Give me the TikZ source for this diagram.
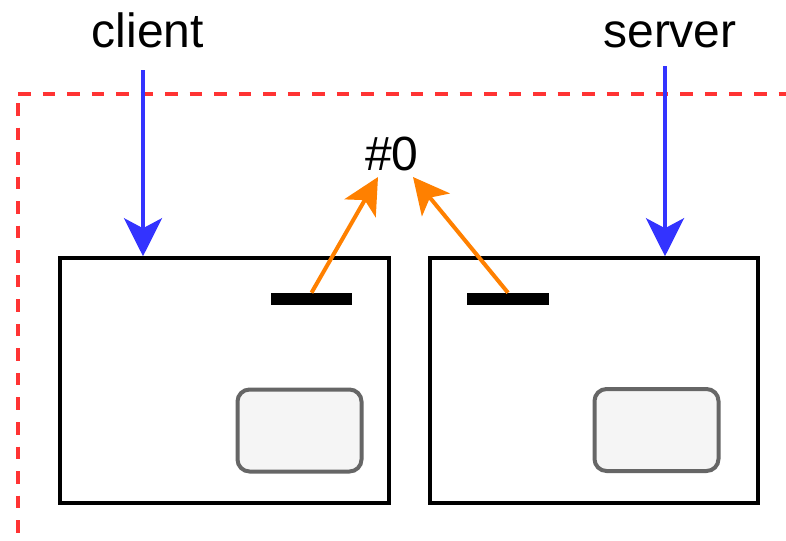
\documentclass[tikz,border=0pt]{standalone}
\usepackage{fontspec}
\setmainfont{Liberation Sans}
\usetikzlibrary{arrows.meta}
\definecolor{frame}{HTML}{FF3333}
\definecolor{blueA}{HTML}{3333FF}
\definecolor{orangeA}{HTML}{FF8000}
\definecolor{grayA}{HTML}{666666}
\definecolor{fillA}{HTML}{F5F5F5}
\tikzset{
  lbl/.style={anchor=base, inner sep=0pt, font=\fontsize{36pt}{40pt}\selectfont},
  hostbox/.style={draw=black, line width=3pt, fill=white, inner sep=0pt, rectangle},
  slot/.style={draw=grayA, fill=fillA, line width=3pt, rounded corners=9pt, inner sep=0pt, minimum width=93pt, minimum height=61.5pt},
  bar/.style={fill=black, inner sep=0pt, minimum height=9pt},
  bluearr/.style={draw=blueA, line width=3pt, -{Stealth[length=28.5pt, width=28.5pt, inset=7.5pt]}},
  orangearr/.style={draw=orangeA, line width=3pt, -{Stealth[length=27pt, width=27pt, inset=7pt]}},
  dashframe/.style={draw=frame, line width=3pt, dash pattern=on 9.4pt off 9pt}
}
\begin{document}
\begin{tikzpicture}[x=0.75pt, y=-0.75pt]
\useasboundingbox (0,0) rectangle (786,540);
\clip (0,0) rectangle (786,540);
% frame
\draw[dashframe] (18,94) -- (800,94);
\draw[dashframe, dash phase=11.6pt] (18,94) -- (18,545);
% boxes
\node[hostbox, minimum width=246.4pt, minimum height=183.4pt] (clientbox) at (224.5,380.5) {};
\node[hostbox, minimum width=246pt, minimum height=183.4pt] (serverbox) at (594,380.5) {};
\node[slot] (slot1) at (299.5,430.5) {};
\node[slot] (slot2) at (656.5,430) {};
\node[bar, minimum width=60.75pt] (bar1) at (311.5,299) {};
\node[bar, minimum width=61.5pt] (bar2) at (508,299) {};
% labels
\node[lbl] (client) at (148,47) {client};
\node[lbl] (server) at (670,47) {server};
\node[lbl] (id) at (392,170) {\#0};
% connectors
\coordinate (c0) at (143,70);
\coordinate (s0) at (665,66);
\coordinate (t1) at (378,177);
\coordinate (t2) at (413,177);
\draw[bluearr] (c0) -- (c0 |- clientbox.north);
\draw[bluearr] (s0) -- (s0 |- serverbox.north);
\draw[orangearr] (bar1.north) -- (t1);
\draw[orangearr] (bar2.north) -- (t2);
\end{tikzpicture}
\end{document}
